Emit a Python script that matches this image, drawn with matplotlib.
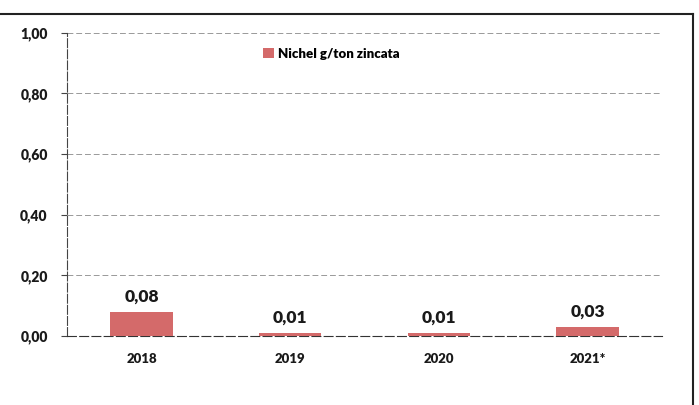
import matplotlib.pyplot as plt
import numpy as np
from matplotlib.lines import Line2D

# data
years = ['2018', '2019', '2020', '2021*']
nichel = [0.08, 0.01, 0.01, 0.03]
yticks = [0.0, 0.2, 0.4, 0.6, 0.8, 1.0]

plt.rcParams['font.family'] = ['Lato', 'DejaVu Sans']

fig = plt.figure(figsize=(6.99, 4.05), dpi=100)
ax = fig.add_axes([0.096, 0.170, 0.851, 0.749])

index = np.arange(len(years))
bars = ax.bar(index, nichel, 0.42, color='#d46a6a', label='Nichel g/ton zincata', zorder=3)

# value labels
for bar in bars:
    ax.annotate(f'{bar.get_height():.2f}'.replace('.', ','),
                (bar.get_x() + bar.get_width() / 2, bar.get_height()),
                xytext=(0, 5), textcoords='offset points',
                ha='center', va='bottom', fontsize=12.5, fontweight='heavy', color='#1a1a1a')

ax.set_xlim(-0.5, 3.5)
ax.set_ylim(0, 1.0)
ax.set_yticks(yticks)
ax.set_yticklabels([f'{v:.2f}'.replace('.', ',') for v in yticks],
                   fontsize=10, fontweight='heavy', color='#1a1a1a')
ax.set_xticks(index)
ax.set_xticklabels(years, fontsize=9.5, fontweight='heavy', color='#1a1a1a')
ax.tick_params(axis='y', length=4, pad=10, color='#444444')
ax.tick_params(axis='x', length=0, pad=12)

ax.grid(axis='y', color='#999999', linestyle=(0, (6, 3)), linewidth=0.7, zorder=0)
for s in ['top', 'right']:
    ax.spines[s].set_visible(False)
ax.spines['left'].set_color('#444444')
ax.spines['left'].set_linestyle((0, (8, 2)))
ax.spines['bottom'].set_color('#333333')
ax.spines['bottom'].set_linestyle((0, (8, 3)))

ax.legend(loc='upper left', bbox_to_anchor=(0.31, 0.99), frameon=False,
          handlelength=0.8, handleheight=0.8, handletextpad=0.3,
          prop={'weight': 'heavy', 'size': 9.5})

# outer frame of the scanned chart
fig.add_artist(Line2D([0, 0.992], [0.965, 0.965], color='#222222', linewidth=1.5))
fig.add_artist(Line2D([0.992, 0.992], [0, 0.965], color='#222222', linewidth=1.5))

fig.savefig('out.png', dpi=100)
